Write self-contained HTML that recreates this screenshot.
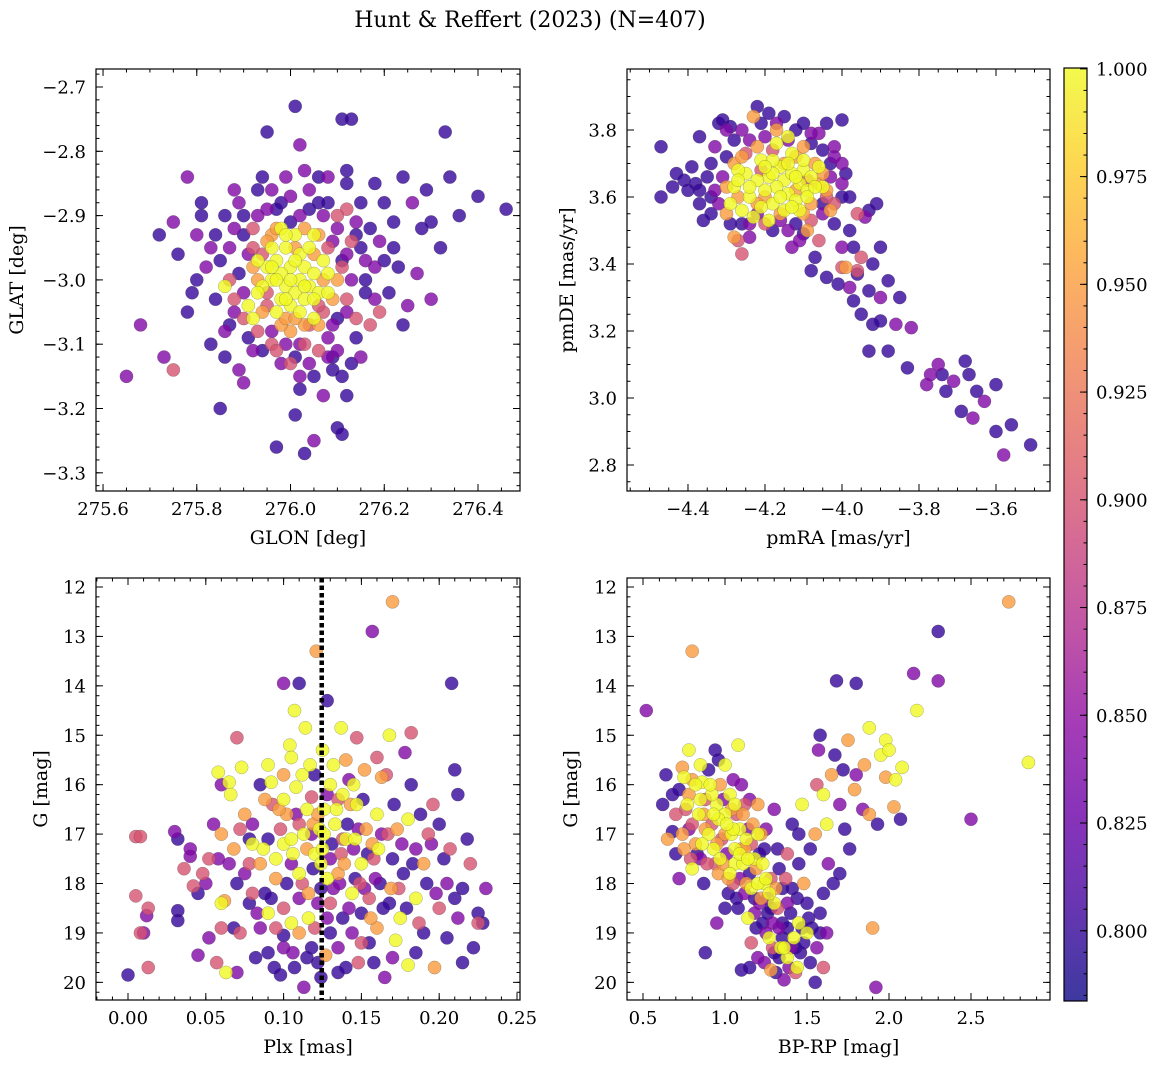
<!DOCTYPE html>
<html><head><meta charset="utf-8"><style>
html,body{margin:0;padding:0;background:#fff;}
svg{display:block;font-family:"DejaVu Serif","Liberation Serif",serif;}
</style></head><body>
<svg id="chart" width="1161" height="1068" viewBox="0 0 1161 1068">
<text x="530" y="27" text-anchor="middle" font-size="22">Hunt &amp; Reffert (2023) (N=407)</text>
</svg>
<script>
const D=0.80,M=0.84,P=0.90,O=0.95,Y=1.0;
// Panel 1: GLON, GLAT, prob
const p1Stars=[[276.01,-2.73,D],[275.95,-2.77,D],[276.02,-2.79,M],[276.11,-2.75,D],[276.13,-2.75,D],[276.33,-2.77,D],[276.46,-2.89,D],[276.34,-2.84,D],[276.29,-2.86,D],[276.24,-2.84,D],[276.18,-2.85,D],[276.12,-2.83,D],[276.12,-2.85,D],[276.06,-2.84,D],[276.03,-2.83,M],[275.99,-2.84,M],[275.98,-2.88,D],[275.93,-2.86,D],[275.88,-2.86,M],[275.78,-2.84,M],[275.81,-2.88,D],[275.81,-2.90,D],[275.75,-2.91,M],[275.72,-2.93,D],[275.76,-2.96,D],[275.68,-3.07,M],[275.73,-3.12,M],[275.75,-3.14,P],[275.65,-3.15,M],[275.78,-3.05,D],[275.83,-3.10,D],[275.86,-3.12,D],[275.89,-3.14,M],[275.85,-3.20,D],[275.97,-3.26,D],[276.01,-3.21,D],[276.03,-3.27,D],[276.05,-3.25,M],[276.10,-3.23,D],[276.11,-3.24,D],[276.09,-3.14,D],[276.11,-3.15,D],[276.13,-3.13,D],[276.02,-3.15,M],[276.05,-3.15,D],[276.08,-3.12,M],[276.15,-3.12,M],[276.20,-2.97,D],[276.21,-3.02,D],[276.18,-3.03,M],[276.25,-3.04,M],[276.27,-2.99,M],[276.32,-2.95,D],[276.28,-2.92,D],[276.30,-2.91,D],[276.22,-2.91,D],[276.26,-2.88,M],[276.20,-2.88,D],[276.17,-2.92,D],[276.14,-2.93,D],[276.16,-2.97,M],[276.12,-2.96,M],[276.10,-2.92,M],[276.08,-2.88,D],[276.04,-2.86,M],[275.96,-2.86,M],[275.92,-2.92,P],[275.88,-2.92,M],[275.84,-2.93,D],[275.85,-2.97,D],[275.82,-2.98,M],[275.87,-3.00,P],[275.88,-3.05,M],[275.90,-3.06,P],[275.93,-3.08,P],[275.96,-3.10,P],[276.00,-3.08,O],[276.04,-3.07,P],[276.07,-3.05,P],[276.10,-3.06,D],[276.12,-3.03,P],[276.10,-3.00,O],[276.06,-2.93,O],[276.02,-2.90,M],[275.96,-2.93,O],[275.92,-2.95,P],[275.89,-2.99,D],[275.86,-3.01,Y],[275.91,-3.04,Y],[275.92,-3.06,Y],[276.05,-2.93,Y],[276.08,-2.99,Y],[276.09,-3.07,M],[276.06,-3.11,P],[276.01,-3.12,D],[275.98,-3.13,M],[275.94,-3.11,D],[276.14,-3.06,P],[276.17,-3.07,P],[275.95,-3.02,P],[276.12,-2.89,P],[275.90,-2.93,D],[275.93,-2.90,M],[276.00,-2.91,D],[276.07,-2.90,M],[276.15,-2.95,D],[276.13,-3.00,M],[276.09,-3.03,O],[276.06,-3.07,O],[275.98,-3.07,O],[275.94,-3.05,O],[275.93,-3.00,O],[275.94,-2.96,P],[276.08,-2.95,P],[276.11,-2.97,D],[275.99,-3.10,M],[276.03,-3.10,P],[275.97,-2.89,D],[276.04,-2.89,D],[275.90,-3.02,M],[276.16,-3.02,D],[276.19,-2.94,M],[276.23,-2.98,D],[275.80,-3.00,D],[275.87,-3.07,D],
[276.00,-2.98,Y],[275.98,-2.99,Y],[276.02,-3.00,Y],[275.99,-3.01,Y],[276.01,-3.02,Y],[276.03,-2.98,Y],[275.97,-2.97,Y],[276.04,-3.01,Y],[275.96,-3.00,Y],[276.00,-3.04,Y],[276.02,-2.96,Y],[275.98,-3.03,Y],[276.05,-2.99,Y],[275.95,-2.98,Y],[276.01,-2.97,Y],[276.03,-3.03,Y],[275.99,-2.95,Y],[276.06,-3.02,Y],[275.94,-3.01,Y],[276.00,-3.00,Y],[275.97,-3.05,Y],[276.02,-3.05,Y],[276.04,-2.95,Y],[275.96,-2.95,Y],[276.07,-2.97,Y],[275.93,-2.97,Y],[276.01,-2.93,Y],[276.05,-3.06,Y],[275.98,-2.92,Y],[276.08,-3.02,Y],
[275.97,-2.92,O],[275.99,-2.93,Y],[276.03,-2.92,O],[276.05,-2.96,O],[276.07,-3.00,O],[276.06,-3.04,P],[276.03,-3.07,O],[275.99,-3.06,O],[275.95,-3.04,P],[275.93,-3.02,Y],[275.92,-2.98,O],[275.95,-2.94,O],[275.91,-2.96,M],[276.09,-2.94,M],[276.11,-2.98,P],[276.12,-3.05,M],[276.08,-3.09,M],[276.02,-3.10,M],[275.96,-3.08,M],[275.91,-3.09,D],[275.88,-3.03,P],[275.87,-2.95,M],[275.90,-2.90,D],[275.95,-2.89,M],[276.00,-2.87,M],[276.06,-2.88,D],[276.10,-2.90,P],[276.14,-2.91,M],[276.16,-3.00,D],[276.14,-3.09,D],[276.10,-3.11,M],[276.04,-3.13,M],[275.97,-3.11,P],[275.92,-3.11,M],[275.86,-3.08,M],[275.84,-3.03,D],[275.83,-2.95,M],[275.86,-2.90,D],[276.18,-2.98,M],[276.19,-3.05,P],[276.22,-2.95,D],[276.08,-2.84,M],[275.94,-2.84,D],[276.02,-3.17,D],[276.07,-3.18,M],[276.12,-3.18,D],[275.90,-3.16,M],[275.79,-3.02,D],[275.80,-2.93,M],[276.24,-3.07,D],[276.30,-3.03,M],[276.36,-2.90,D],[276.40,-2.87,D],[276.00,-3.13,P],[276.09,-3.12,D],[276.13,-2.94,P],[276.15,-2.88,D],[275.89,-2.88,M],[276.01,-2.95,O],[275.99,-3.03,Y],[276.03,-3.01,Y],[275.97,-3.00,Y],[276.01,-3.06,O],[275.96,-2.98,Y],[276.05,-3.03,Y]];
// Panel 2: pmRA, pmDE, prob
const p2Stars=[[-4.47,3.75,D],[-4.47,3.60,D],[-4.43,3.67,D],[-4.41,3.65,D],[-4.38,3.64,D],[-4.37,3.58,D],[-4.36,3.53,D],[-4.34,3.70,D],[-4.32,3.82,D],[-4.31,3.83,D],[-4.29,3.81,D],[-4.28,3.77,D],[-4.22,3.87,D],[-4.19,3.85,D],[-4.15,3.84,D],[-4.10,3.82,D],[-4.04,3.82,D],[-4.00,3.83,D],[-4.08,3.76,D],[-4.03,3.70,D],[-3.99,3.67,D],[-4.00,3.60,D],[-3.98,3.50,D],[-3.97,3.45,D],[-4.02,3.52,D],[-4.07,3.42,D],[-4.08,3.38,D],[-4.04,3.36,D],[-4.01,3.34,D],[-3.96,3.37,D],[-3.93,3.32,D],[-3.95,3.25,D],[-3.92,3.22,D],[-3.90,3.23,D],[-3.93,3.14,D],[-3.88,3.14,D],[-3.83,3.09,D],[-3.75,3.10,M],[-3.74,3.07,D],[-3.73,3.02,D],[-3.71,3.05,M],[-3.68,3.11,D],[-3.67,3.07,D],[-3.65,3.02,D],[-3.63,2.99,M],[-3.69,2.96,D],[-3.66,2.94,M],[-3.60,3.04,D],[-3.60,2.90,D],[-3.56,2.92,D],[-3.58,2.83,M],[-3.51,2.86,D],[-4.26,3.52,D],[-4.34,3.55,D],[-4.40,3.62,D],[-4.18,3.50,D],[-4.10,3.49,D],[-4.13,3.45,M],[-4.12,3.52,D],[-4.05,3.58,D],[-3.93,3.56,D],[-3.91,3.58,D],[-3.90,3.45,D],[-3.85,3.30,D],
[-4.30,3.80,M],[-4.33,3.62,M],[-4.27,3.47,P],[-4.26,3.43,P],[-4.24,3.48,M],[-4.22,3.55,M],[-4.20,3.78,M],[-4.25,3.73,P],[-4.06,3.79,M],[-4.02,3.75,M],[-3.96,3.55,P],[-3.94,3.54,M],[-4.00,3.39,P],[-3.96,3.38,P],[-3.98,3.33,M],[-3.82,3.21,M],[-3.90,3.30,M],[-3.77,3.07,M],[-3.78,3.04,M],[-4.06,3.47,P],[-4.11,3.47,M],[-4.14,3.77,M],[-4.21,3.68,P],[-4.03,3.66,M],[-4.16,3.53,M],[-4.31,3.66,M],[-4.35,3.66,D],[-4.09,3.65,P],[-4.00,3.70,M],
[-4.23,3.84,O],[-4.17,3.80,O],[-4.28,3.70,O],[-4.30,3.55,O],[-4.28,3.48,O],[-4.08,3.58,O],[-4.04,3.62,O],[-4.03,3.56,O],[-4.15,3.70,O],[-4.12,3.72,O],[-4.07,3.70,O],[-4.20,3.60,O],[-4.09,3.50,O],[-3.99,3.39,O],[-4.12,3.62,O],[-4.18,3.74,P],[-4.06,3.64,O],
[-4.15,3.65,Y],[-4.13,3.67,Y],[-4.17,3.63,Y],[-4.11,3.64,Y],[-4.19,3.66,Y],[-4.14,3.61,Y],[-4.16,3.69,Y],[-4.10,3.68,Y],[-4.20,3.62,Y],[-4.12,3.59,Y],[-4.18,3.58,Y],[-4.22,3.65,Y],[-4.08,3.66,Y],[-4.24,3.60,Y],[-4.26,3.56,Y],[-4.28,3.63,Y],[-4.13,3.73,Y],[-4.17,3.76,Y],[-4.21,3.71,Y],[-4.09,3.62,Y],[-4.06,3.69,Y],[-4.25,3.67,Y],[-4.23,3.54,Y],[-4.29,3.58,Y],[-4.15,3.56,Y],[-4.19,3.53,Y],[-4.11,3.56,Y],[-4.05,3.63,Y],[-4.27,3.68,Y],[-4.14,3.78,Y],
[-4.37,3.78,D],[-4.33,3.75,M],[-4.30,3.72,D],[-4.26,3.80,M],[-4.24,3.77,M],[-4.21,3.82,D],[-4.17,3.82,M],[-4.12,3.80,D],[-4.08,3.79,M],[-4.05,3.74,D],[-4.02,3.72,M],[-4.00,3.64,M],[-3.98,3.60,D],[-4.02,3.58,P],[-4.05,3.55,M],[-4.08,3.53,P],[-4.14,3.50,M],[-4.20,3.52,P],[-4.24,3.52,M],[-4.29,3.52,D],[-4.32,3.58,M],[-4.34,3.60,D],[-4.37,3.62,D],[-4.39,3.69,D],[-4.44,3.63,D],[-4.30,3.63,O],[-4.27,3.60,O],[-4.26,3.72,O],[-4.22,3.75,O],[-4.10,3.75,O],[-4.05,3.67,O],[-4.04,3.60,P],[-4.10,3.55,O],[-4.16,3.55,O],[-4.22,3.58,O],[-4.18,3.71,Y],[-4.14,3.70,Y],[-4.10,3.71,Y],[-4.09,3.60,Y],[-4.16,3.60,Y],[-4.21,3.57,Y],[-4.27,3.65,Y],[-4.07,3.63,Y],[-4.12,3.66,Y],[-4.18,3.67,Y],[-4.24,3.63,Y],[-4.13,3.57,Y],[-4.20,3.69,Y],[-4.00,3.45,M],[-3.95,3.42,P],[-3.92,3.40,D],[-3.88,3.35,D],[-3.86,3.22,M],[-3.97,3.29,D]];
// Panel 3: Plx, G, prob
const p3Stars=[[0.000,19.85,D],[0.005,18.25,P],[0.005,17.05,P],[0.008,17.05,P],[0.008,19.0,P],[0.010,19.0,M],[0.012,18.65,M],[0.013,18.5,P],[0.013,19.7,P],[0.030,16.95,M],[0.032,17.1,D],[0.032,18.55,D],[0.032,18.75,D],[0.040,17.3,M],[0.040,17.45,M],[0.042,18.05,P],[0.045,19.45,M],[0.048,17.8,P],[0.050,18.0,M],[0.052,19.1,M],[0.055,16.8,M],[0.057,19.6,P],[0.058,15.75,Y],[0.060,16.0,M],[0.060,17.0,O],[0.060,18.4,Y],[0.062,18.35,O],[0.063,19.8,Y],[0.065,15.95,Y],[0.066,16.2,Y],[0.068,17.3,O],[0.070,15.05,P],[0.070,18.0,D],[0.070,19.8,M],[0.072,19.0,P],[0.073,15.65,Y],[0.075,16.6,O],[0.075,17.8,M],[0.078,18.4,D],[0.080,16.8,M],[0.080,17.2,Y],[0.080,18.2,P],[0.082,19.5,D],[0.085,16.0,D],[0.085,17.6,O],[0.088,16.3,O],[0.090,17.1,D],[0.090,18.6,Y],[0.090,19.4,D],[0.092,15.95,Y],[0.093,16.4,P],[0.095,17.5,Y],[0.095,18.9,P],[0.098,19.85,D],[0.100,13.95,M],[0.100,16.3,Y],[0.100,17.2,Y],[0.100,18.5,P],[0.100,19.05,D],[0.102,16.6,O],[0.104,15.2,Y],[0.105,15.45,Y],[0.105,17.1,Y],[0.105,18.8,Y],[0.107,14.5,Y],[0.107,19.7,D],[0.108,16.05,Y],[0.110,13.95,D],[0.110,17.8,Y],[0.110,18.3,M],[0.110,19.0,O],[0.112,15.8,Y],[0.113,20.1,M],[0.114,14.85,Y],[0.115,16.5,Y],[0.115,17.3,O],[0.116,18.7,Y],[0.118,16.25,P],[0.118,19.3,D],[0.120,15.8,D],[0.120,17.4,Y],[0.120,18.9,P],[0.121,13.3,O],[0.122,19.6,D],[0.123,16.9,Y],[0.124,17.6,Y],[0.124,18.1,D],[0.125,15.3,Y],[0.126,16.5,Y],[0.126,17.0,Y],[0.127,19.45,O],[0.128,14.3,D],[0.130,16.0,Y],[0.130,17.5,M],[0.130,18.4,P],[0.132,15.6,Y],[0.133,16.8,Y],[0.135,17.8,O],[0.135,19.3,M],[0.137,14.85,Y],[0.138,16.2,Y],[0.138,18.7,D],[0.140,17.1,Y],[0.140,19.7,D],[0.142,15.9,M],[0.143,16.4,O],[0.144,18.2,Y],[0.145,17.3,M],[0.147,15.05,P],[0.147,16.4,Y],[0.148,19.6,P],[0.150,17.6,Y],[0.150,18.6,D],[0.152,15.7,O],[0.153,16.9,O],[0.155,18.3,P],[0.157,12.9,M],[0.157,17.2,O],[0.158,19.6,D],[0.160,15.45,P],[0.160,16.6,Y],[0.162,18.0,D],[0.163,15.85,O],[0.165,19.9,M],[0.166,15.8,P],[0.168,15.0,Y],[0.170,12.3,O],[0.170,17.5,D],[0.172,19.15,Y],[0.173,16.9,O],[0.175,18.7,Y],[0.177,17.8,D],[0.178,15.35,M],[0.180,19.65,Y],[0.180,16.7,Y],[0.182,14.95,P],[0.185,17.3,M],[0.185,18.3,Y],[0.188,16.6,D],[0.190,19.0,D],[0.190,17.6,O],[0.192,18.0,D],[0.195,17.2,M],[0.197,19.7,O],[0.200,16.8,D],[0.200,18.5,P],[0.205,19.1,D],[0.207,17.3,P],[0.208,13.95,D],[0.210,15.7,D],[0.212,16.2,D],[0.212,18.7,M],[0.215,19.6,D],[0.215,18.1,D],[0.220,17.6,P],[0.222,19.3,D],[0.225,18.8,P],[0.230,18.1,M],[0.225,18.6,D],
[0.085,18.9,M],[0.095,17.9,O],[0.105,17.6,M],[0.112,18.0,P],[0.118,17.0,M],[0.122,18.4,M],[0.128,17.9,Y],[0.132,18.1,M],[0.137,17.4,P],[0.142,18.5,M],[0.146,17.9,D],[0.152,18.1,M],[0.158,17.5,P],[0.163,17.0,M],[0.168,18.4,D],[0.174,18.1,P],[0.148,16.9,M],[0.138,17.1,P],[0.128,16.2,M],[0.119,16.8,O],[0.108,16.6,M],[0.098,16.9,P],[0.088,18.2,D],[0.078,17.6,P],[0.068,18.9,D],[0.058,17.5,M],[0.182,16.0,D],[0.196,16.4,P],[0.205,18.0,M],[0.160,18.9,O],[0.150,19.2,P],[0.130,19.0,D],[0.115,19.5,D],[0.100,19.3,M],
[0.065,17.6,M],[0.072,16.9,P],[0.078,17.1,D],[0.083,18.6,M],[0.087,17.3,Y],[0.092,18.3,D],[0.097,16.5,O],[0.102,18.0,D],[0.106,17.4,Y],[0.110,16.8,P],[0.113,17.0,Y],[0.116,18.2,O],[0.119,17.7,D],[0.122,16.6,O],[0.125,17.3,Y],[0.128,18.7,M],[0.131,17.2,D],[0.134,16.5,Y],[0.136,18.0,M],[0.139,17.6,O],[0.141,16.8,D],[0.144,19.0,M],[0.146,17.1,Y],[0.149,18.0,P],[0.151,16.3,D],[0.154,17.4,D],[0.156,18.7,O],[0.159,17.9,M],[0.161,17.3,Y],[0.164,18.5,D],[0.167,17.0,P],[0.169,18.1,O],[0.171,16.4,D],[0.176,17.2,M],[0.179,18.5,D],[0.183,17.6,D],[0.187,18.8,P],[0.193,17.0,P],[0.198,18.2,M],[0.203,17.5,D],[0.210,18.3,D],[0.218,17.1,D],[0.228,18.8,D],[0.060,18.9,P],[0.052,17.5,P],[0.045,18.2,D],[0.036,17.7,P],[0.100,15.8,O],[0.090,15.6,Y],[0.140,15.5,O],[0.145,16.0,Y],[0.135,16.3,P],[0.117,15.6,Y],[0.124,19.9,D],[0.135,19.8,D],[0.106,19.4,M],[0.094,19.7,D],[0.155,19.2,D],[0.170,19.5,M],[0.185,19.4,D]];
// Panel 4: BP-RP, G, prob
const p4Stars=[[0.52,14.5,M],[0.62,16.4,D],[0.64,15.8,D],[0.65,17.1,O],[0.68,16.95,D],[0.70,17.4,D],[0.72,16.1,D],[0.72,17.9,M],[0.74,15.65,O],[0.75,15.85,Y],[0.76,16.5,P],[0.78,15.3,Y],[0.78,16.2,O],[0.80,13.3,O],[0.80,16.8,P],[0.80,17.7,Y],[0.82,17.2,O],[0.84,16.6,Y],[0.85,17.5,M],[0.86,15.95,Y],[0.87,18.0,D],[0.88,16.3,P],[0.88,19.4,D],[0.90,17.0,Y],[0.90,15.7,D],[0.92,16.8,P],[0.93,17.3,Y],[0.94,15.3,D],[0.95,16.4,Y],[0.95,18.8,M],[0.96,17.8,O],[0.97,16.0,O],[0.98,17.1,P],[1.00,15.6,Y],[1.00,16.6,Y],[1.01,17.4,M],[1.02,18.2,D],[1.03,16.2,Y],[1.04,17.0,Y],[1.05,15.9,M],[1.05,18.0,P],[1.06,17.6,Y],[1.07,16.6,P],[1.08,15.2,Y],[1.08,18.5,D],[1.09,16.9,Y],[1.10,17.3,O],[1.10,19.75,D],[1.12,16.4,P],[1.12,18.2,M],[1.13,17.1,Y],[1.14,18.7,Y],[1.15,17.8,D],[1.16,19.2,P],[1.17,16.8,O],[1.18,17.5,Y],[1.19,18.9,D],[1.20,17.0,Y],[1.20,19.5,M],[1.22,18.3,O],[1.23,17.6,Y],[1.24,18.0,Y],[1.25,16.9,M],[1.26,18.6,D],[1.27,19.1,Y],[1.28,17.9,P],[1.28,19.75,O],[1.30,18.4,Y],[1.31,19.8,D],[1.32,17.3,D],[1.33,18.9,M],[1.34,19.3,Y],[1.35,18.1,D],[1.36,19.95,M],[1.37,17.9,P],[1.38,19.5,Y],[1.40,18.6,D],[1.41,16.8,D],[1.42,19.1,Y],[1.43,19.8,P],[1.44,18.3,D],[1.46,19.4,D],[1.47,16.4,Y],[1.48,18.0,O],[1.50,19.0,Y],[1.51,18.7,D],[1.52,19.6,D],[1.55,20.0,D],[1.55,17.0,O],[1.56,16.0,P],[1.57,15.3,M],[1.58,15.0,D],[1.58,18.6,D],[1.60,16.2,Y],[1.60,19.7,P],[1.62,16.8,Y],[1.62,19.0,M],[1.65,15.8,O],[1.66,18.0,D],[1.67,15.4,D],[1.68,13.9,D],[1.70,16.4,M],[1.72,15.7,D],[1.73,16.9,D],[1.75,15.1,O],[1.76,17.3,D],[1.79,16.1,O],[1.80,13.95,D],[1.80,15.8,M],[1.84,16.5,M],[1.85,15.6,O],[1.88,14.85,Y],[1.88,16.6,O],[1.90,18.9,O],[1.92,20.1,M],[1.93,16.8,D],[1.95,15.4,Y],[1.98,15.85,O],[1.98,15.1,Y],[2.00,15.3,Y],[2.03,16.45,O],[2.04,15.9,Y],[2.07,16.7,D],[2.08,15.65,Y],[2.15,13.75,M],[2.17,14.5,Y],[2.30,12.9,D],[2.30,13.9,M],[2.50,16.7,M],[2.73,12.3,O],[2.85,15.55,Y],
[0.82,16.0,Y],[0.88,16.9,O],[0.92,16.2,Y],[0.96,16.7,Y],[0.99,17.6,O],[1.03,17.8,Y],[1.06,16.4,Y],[1.09,17.9,M],[1.11,17.6,Y],[1.14,16.9,M],[1.16,18.1,Y],[1.19,17.7,O],[1.21,18.4,M],[1.24,17.3,D],[1.27,18.2,Y],[1.29,18.8,M],[1.32,18.5,P],[1.35,19.1,D],[1.38,18.4,M],[1.40,19.3,M],[1.44,19.7,Y],[1.47,18.9,D],[1.30,19.4,D],[1.25,19.0,M],[1.18,18.3,D],[1.12,17.3,O],[1.00,17.0,O],[0.94,17.6,P],[0.86,17.2,Y],[0.78,16.9,M],[1.05,16.9,Y],[1.15,16.3,M],[1.22,17.0,O],[1.33,17.7,D],[1.45,17.6,D],
[0.70,16.6,P],[0.74,17.0,O],[0.77,16.4,Y],[0.80,15.9,O],[0.83,17.4,D],[0.85,16.3,Y],[0.87,16.6,O],[0.89,17.6,P],[0.91,16.0,Y],[0.93,16.6,Y],[0.95,17.2,O],[0.97,17.5,Y],[0.99,16.3,M],[1.01,16.8,Y],[1.02,17.9,O],[1.04,16.5,O],[1.06,17.3,Y],[1.07,18.3,D],[1.09,17.4,Y],[1.11,16.6,O],[1.13,18.0,O],[1.14,17.5,Y],[1.16,17.2,P],[1.18,18.6,M],[1.20,18.0,Y],[1.21,17.4,D],[1.23,18.8,D],[1.25,17.9,Y],[1.26,18.3,M],[1.28,18.5,D],[1.29,19.3,P],[1.31,18.1,O],[1.33,19.5,D],[1.35,18.8,D],[1.36,19.3,Y],[1.38,18.9,D],[1.39,19.7,M],[1.41,18.1,D],[1.43,19.3,D],[1.45,18.8,Y],[1.48,19.2,D],[1.50,18.4,D],[1.53,18.9,D],[1.56,19.3,M],[1.58,19.0,D],[1.45,17.0,D],[1.38,17.4,P],[1.30,16.5,M],[1.20,16.4,O],[1.10,16.0,M],[0.96,15.5,D],[0.85,15.6,Y],[0.79,17.5,P],[0.75,17.3,O],[0.68,16.2,D],[1.52,17.3,D],[1.60,18.2,D],[1.63,17.6,M],[1.70,17.8,D],[1.00,18.5,D],[1.15,19.7,D],[1.24,19.6,M]];
// Tick labels
const p1XTicks=[275.6,275.8,276.0,276.2,276.4], p1YTicks=[-2.7,-2.8,-2.9,-3.0,-3.1,-3.2,-3.3];
const p2XTicks=[-4.4,-4.2,-4.0,-3.8,-3.6], p2YTicks=[3.8,3.6,3.4,3.2,3.0,2.8];
const p3XTicks=[0.00,0.05,0.10,0.15,0.20,0.25], gTicks=[12,13,14,15,16,17,18,19,20];
const p4XTicks=[0.5,1.0,1.5,2.0,2.5];
const cbTicks=[0.800,0.825,0.850,0.875,0.900,0.925,0.950,0.975,1.000];
const plxCut=[0.1245];
const CMIN=0.7837,CMAX=1.0002;

const svg=document.getElementById('chart');const NS='http://www.w3.org/2000/svg';
function mk(tag,attrs,parent){const e=document.createElementNS(NS,tag);for(const k in attrs)e.setAttribute(k,attrs[k]);(parent||svg).appendChild(e);return e;}
const stops=['#0d0887','#41049d','#6a00a8','#8f0da4','#b12a90','#cc4778','#e16462','#f2844b','#fca636','#fcce25','#f0f921'];
function hex(h){return [1,3,5].map(i=>parseInt(h.substr(i,2),16));}
function plasma(t){t=Math.max(0,Math.min(1,t));const f=t*10,i=Math.min(9,Math.floor(f)),r=f-i;const a=hex(stops[i]),b=hex(stops[i+1]);return 'rgb('+a.map((v,k)=>Math.round(v+(b[k]-v)*r)).join(',')+')';}
function lin(d0,d1,r0,r1){return v=>r0+(v-d0)/(d1-d0)*(r1-r0);}
function fmt(v,dec){const s=Math.abs(v).toFixed(dec);return (v<-1e-9?'\u2212':'')+s;}

function panel(o){
  const g=mk('g',{}),x=lin(o.xd[0],o.xd[1],o.L,o.R),y=lin(o.yd[0],o.yd[1],o.B,o.T);
  
  const pts=o.data.slice().sort((a,b)=>a[2]-b[2]);
  const mg=mk('g',{},g);
  pts.forEach(p=>{const c=mk('circle',{cx:x(p[0]),cy:y(p[1]),r:6.6,fill:plasma((p[2]-CMIN)/(CMAX-CMIN)),'fill-opacity':0.8,stroke:'rgba(70,70,70,0.45)','stroke-width':0.5},mg);
    });
  if(o.extra)o.extra(g,x,y);
  const fr=mk('rect',{x:o.L,y:o.T,width:o.R-o.L,height:o.B-o.T,fill:'none',stroke:'#000','stroke-width':1.2},g);
  
  const lo=Math.min(...o.xd),hi=Math.max(...o.xd);
  for(let v=Math.ceil(lo/o.xm-1e-6)*o.xm;v<=hi;v+=o.xm){const px=x(v);mk('line',{x1:px,x2:px,y1:o.B,y2:o.B-3.5,stroke:'#000'},g);mk('line',{x1:px,x2:px,y1:o.T,y2:o.T+3.5,stroke:'#000'},g);}
  const ylo=Math.min(...o.yd),yhi=Math.max(...o.yd);
  for(let v=Math.ceil(ylo/o.ym-1e-6)*o.ym;v<=yhi;v+=o.ym){const py=y(v);mk('line',{x1:o.L,x2:o.L+3.5,y1:py,y2:py,stroke:'#000'},g);mk('line',{x1:o.R,x2:o.R-3.5,y1:py,y2:py,stroke:'#000'},g);}
  o.xt.forEach(v=>{const px=x(v);mk('line',{x1:px,x2:px,y1:o.B,y2:o.B-7,stroke:'#000'},g);mk('line',{x1:px,x2:px,y1:o.T,y2:o.T+7,stroke:'#000'},g);
    const t=mk('text',{x:px,y:o.B+24,'text-anchor':'middle','font-size':18},g);t.textContent=fmt(v,o.xdec);});
  o.yt.forEach(v=>{const py=y(v);mk('line',{x1:o.L,x2:o.L+7,y1:py,y2:py,stroke:'#000'},g);mk('line',{x1:o.R,x2:o.R-7,y1:py,y2:py,stroke:'#000'},g);
    const t=mk('text',{x:o.L-10,y:py+6.5,'text-anchor':'end','font-size':18},g);t.textContent=fmt(v,o.ydec);});
  const xl=mk('text',{x:(o.L+o.R)/2,y:o.B+53,'text-anchor':'middle','font-size':19},g);xl.textContent=o.xlab;
  const yl=mk('text',{x:0,y:0,'text-anchor':'middle','font-size':19,transform:`translate(${o.ylx},${(o.T+o.B)/2}) rotate(-90)`},g);yl.textContent=o.ylab;
}
panel({name:'glon-glat-panel',L:96,R:520,T:69,B:491,xd:[275.585,276.4896],yd:[-3.3283,-2.672],xt:p1XTicks,yt:p1YTicks,xm:0.05,ym:0.02,xdec:1,ydec:1,xlab:'GLON [deg]',ylab:'GLAT [deg]',ylx:23,data:p1Stars});
panel({name:'pm-panel',L:627,R:1050,T:69,B:491,xd:[-4.5584,-3.4597],yd:[2.7224,3.9821],xt:p2XTicks,yt:p2YTicks,xm:0.05,ym:0.05,xdec:1,ydec:1,xlab:'pmRA [mas/yr]',ylab:'pmDE [mas/yr]',ylx:573,data:p2Stars});
panel({name:'plx-g-panel',L:96,R:520,T:578,B:1000,xd:[-0.02057,0.25193],yd:[20.357,11.818],xt:p3XTicks,yt:gTicks,xm:0.01,ym:0.2,xdec:2,ydec:0,xlab:'Plx [mas]',ylab:'G [mag]',ylx:47,data:p3Stars,
  extra:(g,x,y)=>{plxCut.forEach(v=>{const l=mk('line',{x1:x(v),x2:x(v),y1:578,y2:1000,stroke:'#000','stroke-width':4.5,'stroke-dasharray':'4.5 3'},g);});}});
panel({name:'cmd-panel',L:627,R:1050,T:578,B:1000,xd:[0.4024,2.9817],yd:[20.357,11.818],xt:p4XTicks,yt:gTicks,xm:0.1,ym:0.2,xdec:1,ydec:0,xlab:'BP-RP [mag]',ylab:'G [mag]',ylx:577,data:p4Stars});
const cb=mk('g',{});
const defs=mk('defs',{},cb);const grad=mk('linearGradient',{id:'pl',x1:0,y1:1,x2:0,y2:0},defs);
for(let i=0;i<=20;i++){const c=plasma(i/20);const rgb=c.match(/\d+/g).map(Number).map(v=>Math.round(v*0.8+255*0.2));mk('stop',{offset:i/20,'stop-color':`rgb(${rgb.join(',')})`},grad);}
mk('rect',{x:1064,y:68,width:23,height:933,fill:'url(#pl)',stroke:'#000','stroke-width':1.2},cb);
const cy=lin(CMIN,CMAX,1001,68);
for(let v=0.785;v<=1.0;v+=0.005){mk('line',{x1:1087,x2:1083.5,y1:cy(v),y2:cy(v),stroke:'#000'},cb);}
cbTicks.forEach(v=>{mk('line',{x1:1087,x2:1080,y1:cy(v),y2:cy(v),stroke:'#000'},cb);const t=mk('text',{x:1096,y:cy(v)+6.5,'font-size':18},cb);t.textContent=v.toFixed(3);});
</script>
</body></html>
